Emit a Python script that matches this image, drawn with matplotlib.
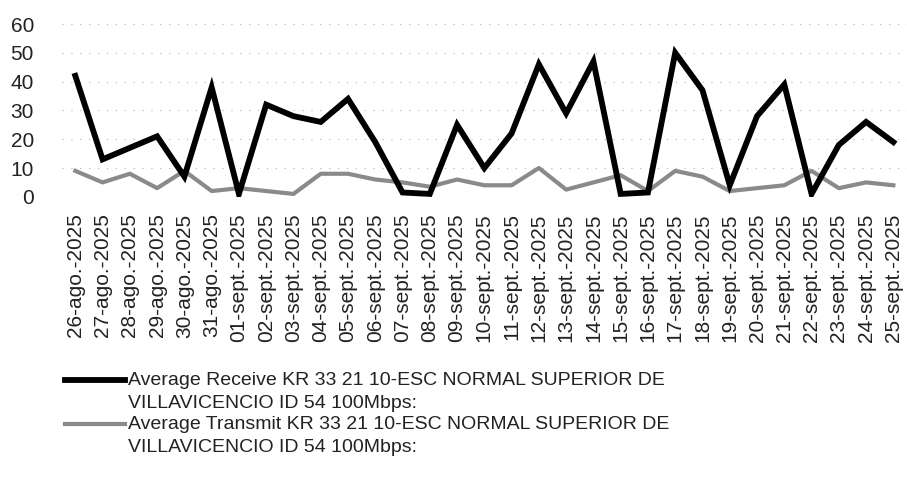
"""
Daily average receive / transmit traffic for one school link
"""

import matplotlib
matplotlib.use("Agg")
import matplotlib.pyplot as plt
from matplotlib.legend_handler import HandlerLine2D

######################################################################
############################### Data #################################

dates = ["26-ago.-2025", "27-ago.-2025", "28-ago.-2025", "29-ago.-2025",
         "30-ago.-2025", "31-ago.-2025", "01-sept.-2025", "02-sept.-2025",
         "03-sept.-2025", "04-sept.-2025", "05-sept.-2025", "06-sept.-2025",
         "07-sept.-2025", "08-sept.-2025", "09-sept.-2025", "10-sept.-2025",
         "11-sept.-2025", "12-sept.-2025", "13-sept.-2025", "14-sept.-2025",
         "15-sept.-2025", "16-sept.-2025", "17-sept.-2025", "18-sept.-2025",
         "19-sept.-2025", "20-sept.-2025", "21-sept.-2025", "22-sept.-2025",
         "23-sept.-2025", "24-sept.-2025", "25-sept.-2025"]

receive = [42, 13, 17, 21, 7, 38, 1, 32, 28, 26, 34, 19, 1.5, 1, 25, 10,
           22, 46, 29, 47, 1, 1.5, 50, 37, 4, 28, 39, 1, 18, 26, 19]

transmit = [9, 5, 8, 3, 9, 2, 3, 2, 1, 8, 8, 6, 5, 3.5, 6, 4,
            4, 10, 2.5, 5, 7.5, 2, 9, 7, 2, 3, 4, 9, 3, 5, 4]

yticks = [0, 10, 20, 30, 40, 50, 60]

label_rx = "Average Receive KR 33 21 10-ESC NORMAL SUPERIOR DE\nVILLAVICENCIO ID 54 100Mbps:"
label_tx = "Average Transmit KR 33 21 10-ESC NORMAL SUPERIOR DE\nVILLAVICENCIO ID 54 100Mbps:"


class FirstLineHandler(HandlerLine2D):
    # lift the legend line up to the first text line of a two-line label
    def create_artists(self, legend, orig_handle, xdescent, ydescent,
                       width, height, fontsize, trans):
        artists = super().create_artists(legend, orig_handle, xdescent, ydescent,
                                         width, height, fontsize, trans)
        y = (height - ydescent) / 2 + 0.6 * fontsize
        for a in artists:
            a.set_ydata([y] * len(a.get_xdata()))
        return artists


plt.rcParams['font.family'] = ['Liberation Sans', 'DejaVu Sans']

fig = plt.figure(figsize=(9.07, 4.8), dpi=100)
ax = fig.add_axes([0.068, 0.590, 0.932, 0.360])

x = range(len(dates))
ax.plot(x, receive, color="black", lw=4.2, solid_joinstyle="miter", label=label_rx, zorder=3)
ax.plot(x, transmit, color="#8a8a8a", lw=3.0, label=label_tx, zorder=2)

ax.set_xlim(-0.5, len(dates) - 0.5)
ax.set_ylim(0, 60)
ax.set_yticks(yticks)
ax.set_xticks(list(x))
ax.set_xticklabels(dates, rotation=90)
ax.tick_params(axis="both", length=0, labelsize=15, colors="#222222")
ax.tick_params(axis="y", pad=20)
ax.tick_params(axis="x", pad=12)

for s in ax.spines.values():
    s.set_visible(False)
ax.yaxis.grid(True, color="#b0b0b0", lw=0.8, linestyle=(0, (1, 7)))
ax.set_axisbelow(True)

h, l = ax.get_legend_handles_labels()
leg = fig.legend(h, l, loc="upper left", bbox_to_anchor=(65 / 907, 1 - 372 / 480),
                 frameon=False, fontsize=14, handlelength=3.1, handletextpad=0.15,
                 labelspacing=0.18, borderaxespad=0, borderpad=0,
                 handler_map={h[0]: FirstLineHandler(), h[1]: FirstLineHandler()})
for t in leg.get_texts():
    t.set_linespacing(1.5)
    t.set_color("#222222")

fig.savefig("out.png", dpi=100)
